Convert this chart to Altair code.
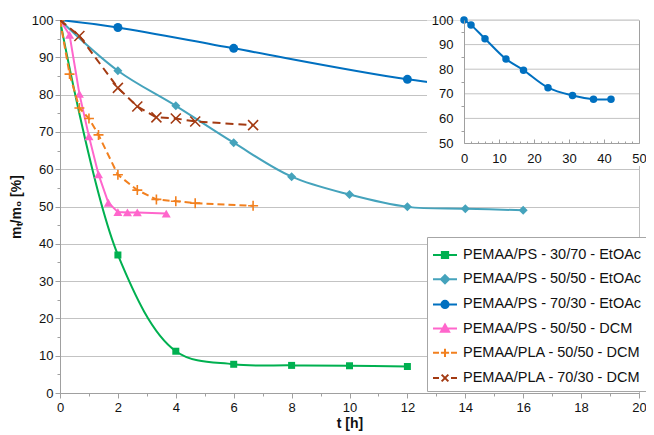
import altair as alt
import pandas as pd

# ---------------- data ----------------
names = [
    "PEMAA/PS - 30/70 - EtOAc",
    "PEMAA/PS - 50/50 - EtOAc",
    "PEMAA/PS - 70/30 - EtOAc",
    "PEMAA/PS - 50/50 - DCM",
    "PEMAA/PLA - 50/50 - DCM",
    "PEMAA/PLA - 70/30 - DCM",
]
colors = ["#00B050", "#45A3BC", "#0070C0", "#FF66CC", "#F2801F", "#A33A12"]

t_green = [0, 2, 4, 6, 8, 10, 12]
m_green = [100, 37, 11.2, 7.7, 7.4, 7.3, 7.1]
t_teal = [0, 2, 4, 6, 8, 10, 12, 14, 16]
m_teal = [100, 86.4, 77, 67.1, 58, 53.2, 49.9, 49.4, 49]
t_blue = [0, 2, 6, 12, 17, 24, 31, 37, 42]
m_blue = [100, 98, 92.4, 84.1, 79.6, 72.5, 69.3, 67.8, 67.8]
t_pink = [0, 0.33, 0.67, 1, 1.33, 1.67, 2, 2.33, 2.67, 3.67]
m_pink = [100, 96, 80.2, 68.8, 58.6, 51, 48.5, 48.4, 48.4, 48.1]
t_orange = [0, 0.33, 0.67, 1, 1.33, 2, 2.67, 3.33, 4, 4.67, 6.67]
m_orange = [100, 85.5, 76.4, 73.6, 69.2, 58.5, 54.4, 51.9, 51.4, 50.9, 50.2]
t_brown = [0, 0.67, 2, 2.67, 3.33, 4, 4.67, 6.67]
m_brown = [100, 95.7, 81.8, 76.8, 73.9, 73.6, 72.8, 71.8]

x_ticks = list(range(0, 21, 2))
x_minor = list(range(1, 20, 2))
y_ticks = list(range(0, 101, 10))
y_minor = list(range(5, 100, 10))
inset_x_ticks = list(range(0, 51, 10))
inset_x_minor = [v for v in range(0, 51, 2) if v % 10 != 0]
inset_y_ticks = list(range(50, 101, 10))
inset_y_minor = list(range(55, 100, 10))
inset_grid = [60, 70, 80, 90, 100]

# ---------------- style ----------------
FONT = "Liberation Sans"
W, H = 579, 373
GRID = "#c3c3c3"
AX = "#a0a0a0"
TXT = "#111111"

SQ = "M-1,0H1M-0.26,-0.26H0.26V0.26H-0.26Z"
DI = "M-1,0H1M0,-0.34L0.34,0L0,0.34L-0.34,0Z"
CI = "M-1,0H1M0.3,0A0.3,0.3,0,1,1,-0.3,0A0.3,0.3,0,1,1,0.3,0Z"
TR = "M-1,0H1M0,-0.34L0.34,0.26L-0.34,0.26Z"
PL = "M-1,0H-0.5M0.5,0H1M-0.34,0H0.34M0,-0.34V0.34"
XX = "M-1,0H-0.5M0.5,0H1M-0.28,-0.28L0.28,0.28M-0.28,0.28L0.28,-0.28"
legend_paths = [SQ, DI, CI, TR, PL, XX]

PLUS = "M-1,0H1M0,-1V1"
CROSS = "M-1,-1L1,1M-1,1L1,-1"

specs = [
    (t_green, m_green, "catmull-rom", None, "square", True, 49),
    (t_teal, m_teal, "catmull-rom", None, "diamond", True, 81),
    (t_blue, m_blue, "catmull-rom", None, "circle", True, 81),
    (t_pink, m_pink, "linear", None, "triangle-up", True, 81),
    (t_orange, m_orange, "linear", [7, 4], PLUS, False, 100),
    (t_brown, m_brown, "linear", [8, 5], CROSS, False, 100),
]

XS = alt.Scale(domain=[0, 20], nice=False, zero=False)
YS = alt.Scale(domain=[0, 100], nice=False)

ax_x_major = alt.Axis(orient="bottom", values=x_ticks, title="t [h]", grid=False,
                      tickSize=5, tickColor=AX, domainColor=AX, labelFontSize=13,
                      labelPadding=3, labelFlush=False, titleFontSize=14,
                      titleFontWeight="bold", titlePadding=2, labelColor=TXT, titleColor=TXT,
                      format="d")
ax_x_minor = alt.Axis(orient="bottom", values=x_minor, labels=False, domain=False,
                      grid=False, tickSize=3, tickColor=AX, title=None)
ax_y_major = alt.Axis(orient="left", values=y_ticks, title="mₜ/m₀ [%]", grid=True,
                      gridColor=GRID, tickSize=5, tickColor=AX, domainColor=AX,
                      labelFontSize=13, labelPadding=2, labelFlush=False,
                      titleFontSize=14, titleFontWeight="bold", titlePadding=8,
                      labelColor=TXT, titleColor=TXT, format="d")
ax_y_minor = alt.Axis(orient="left", values=y_minor, labels=False, domain=False,
                      grid=False, tickSize=3, tickColor=AX, title=None)

main_layers = []
for i, (t, m, interp, dash, shape, filled, size) in enumerate(specs):
    df = pd.DataFrame({"t": t, "m": m})
    line_kw = dict(color=colors[i], strokeWidth=2, interpolate=interp, clip=True)
    if dash is not None:
        line_kw["strokeDash"] = dash
    if i == 0:
        lx, ly = ax_x_major, ax_y_major
        px, py = ax_x_minor, ax_y_minor
    else:
        lx = ly = px = py = None
    line = alt.Chart(df).mark_line(**line_kw).encode(
        x=alt.X("t:Q", scale=XS, axis=lx),
        y=alt.Y("m:Q", scale=YS, axis=ly),
    )
    pt_kw = dict(shape=shape, filled=filled, size=size, color=colors[i], opacity=1, clip=True)
    if not filled:
        pt_kw["strokeWidth"] = 1.6
    pts = alt.Chart(df).mark_point(**pt_kw).encode(
        x=alt.X("t:Q", scale=XS, axis=px),
        y=alt.Y("m:Q", scale=YS, axis=py),
    )
    main_layers += [line, pts]

leg = alt.Legend(orient="none", legendX=367, legendY=217, title=None,
                 labelFont=FONT, labelFontSize=14.5, labelColor=TXT, labelLimit=400,
                 symbolSize=576, symbolStrokeWidth=2, rowPadding=3.2, padding=5,
                 labelOffset=5, strokeColor="#a6a6a6", fillColor="white")
legend_df = pd.DataFrame({"series": names})
legend_layer = alt.Chart(legend_df).transform_filter("false").mark_point(
    filled=True, opacity=1, strokeWidth=2
).encode(
    color=alt.Color("series:N", scale=alt.Scale(domain=names, range=colors), legend=leg),
    shape=alt.Shape("series:N", scale=alt.Scale(domain=names, range=legend_paths), legend=leg),
    stroke=alt.Stroke("series:N", scale=alt.Scale(domain=names, range=colors), legend=leg),
)
main_layers.append(legend_layer)

main = alt.layer(*main_layers).resolve_axis(x="independent", y="independent")

# ---------------- inset ----------------
IXS = alt.Scale(domain=[0, 50], range=[404, 579], nice=False, zero=False)
IYS = alt.Scale(domain=[50, 100], range=[123, 0], nice=False, zero=False)
inset_df = pd.DataFrame({"t": t_blue, "m": m_blue})
grid_df = pd.DataFrame({"g": inset_grid})

bg = alt.Chart(pd.DataFrame({"a": [0]})).mark_rect(color="white").encode(
    x=alt.value(367), x2=alt.value(580), y=alt.value(0.5), y2=alt.value(146)
)
grid_rules = alt.Chart(grid_df).mark_rule(color=GRID, strokeWidth=1).encode(
    y=alt.Y("g:Q", scale=IYS, axis=None),
    x=alt.X(datum=0, scale=IXS, axis=None),
    x2=alt.X2(datum=50),
)
iax_x = alt.Axis(orient="bottom", offset=-250, values=inset_x_ticks, ticks=False,
                 domainColor=AX, labelFontSize=13, labelPadding=9, labelFlush=False,
                 grid=False, title=None, zindex=1, labelColor=TXT, format="d")
iax_y = alt.Axis(orient="left", offset=-404, values=inset_y_ticks, ticks=False,
                 domainColor=AX, labelFontSize=13, labelPadding=11, labelFlush=False,
                 grid=False, title=None, zindex=1, labelColor=TXT, format="d")
iax_xmin = alt.Axis(orient="top", offset=-123, values=inset_x_minor, labels=False,
                    domain=False, tickSize=2, tickColor=AX, grid=False, title=None, zindex=1)
iax_ymin = alt.Axis(orient="left", offset=-404, values=inset_y_minor, labels=False,
                    domain=False, tickSize=3, tickColor=AX, grid=False, title=None, zindex=1)
iax_xmaj = alt.Axis(orient="top", offset=-123, values=inset_x_ticks, labels=False,
                    domain=False, tickSize=4, tickColor=AX, grid=False, title=None, zindex=1)
iax_right = alt.Axis(orient="right", values=inset_y_ticks, labels=False, ticks=False,
                     domain=True, domainColor=AX, grid=False, title=None, zindex=1)

inset_line = alt.Chart(inset_df).mark_line(color=colors[2], strokeWidth=2,
                                           interpolate="catmull-rom").encode(
    x=alt.X("t:Q", scale=IXS, axis=iax_x),
    y=alt.Y("m:Q", scale=IYS, axis=iax_y),
)
inset_pts = alt.Chart(inset_df).mark_point(shape="circle", filled=True, size=56,
                                           color=colors[2], opacity=1).encode(
    x=alt.X("t:Q", scale=IXS, axis=iax_xmin),
    y=alt.Y("m:Q", scale=IYS, axis=iax_ymin),
)
inset_host = alt.Chart(inset_df).mark_point(opacity=0, size=1).encode(
    x=alt.X("t:Q", scale=IXS, axis=iax_xmaj),
    y=alt.Y("m:Q", scale=IYS, axis=iax_right),
)
inset = alt.layer(bg, grid_rules, inset_line, inset_pts, inset_host).resolve_axis(
    x="independent", y="independent")

chart = alt.layer(main, inset).resolve_scale(
    x="independent", y="independent"
).properties(
    width=W, height=H,
    autosize=alt.AutoSizeParams(type="none"),
    padding={"left": 52, "top": 12, "right": 7, "bottom": 40},
).configure_view(stroke="#bdbdbd").configure_axis(
    labelFont=FONT, titleFont=FONT
).configure_legend(labelFont=FONT)

chart.save("out.html", embed_options={"renderer": "svg", "actions": False})
